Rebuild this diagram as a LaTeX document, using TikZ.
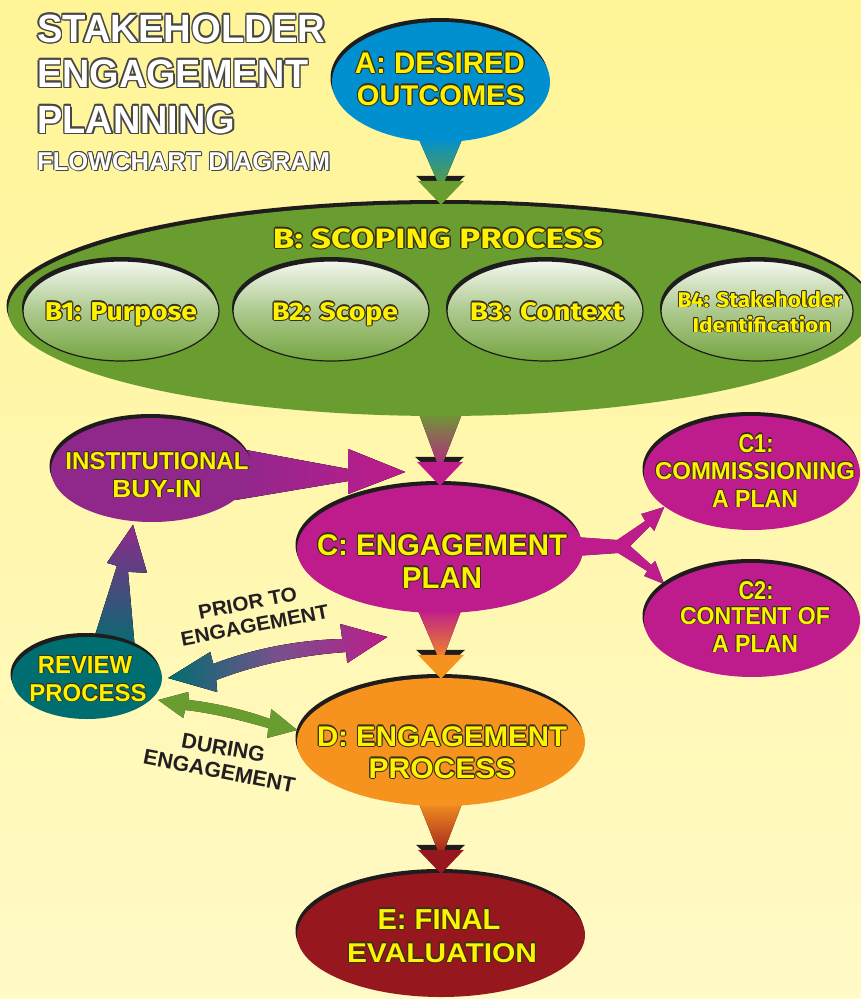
\documentclass[tikz,border=0pt]{standalone}
\usepackage{fontspec}
\setmainfont{Liberation Sans}
\newfontfamily\subfont{Fira Sans}
\usepackage{graphicx}
\usetikzlibrary{shapes.geometric,shadows,calc}
\definecolor{bgtop}{RGB}{255,244,150}
\definecolor{bgbot}{RGB}{255,250,198}
\definecolor{ablue}{RGB}{0,144,208}
\definecolor{bgreen}{RGB}{105,157,48}
\definecolor{cmag}{RGB}{190,28,140}
\definecolor{ipurp}{RGB}{144,40,140}
\definecolor{rteal}{RGB}{0,110,112}
\definecolor{dorange}{RGB}{246,146,30}
\definecolor{ered}{RGB}{150,24,30}
\definecolor{yel}{RGB}{255,242,0}
\definecolor{rim}{RGB}{55,48,25}
\definecolor{shad}{RGB}{30,28,28}
\definecolor{darktext}{RGB}{35,31,32}
\definecolor{titlerim}{RGB}{70,70,70}
\definecolor{midpurp}{RGB}{120,80,140}
\newdimen\olwd
\newcommand\olcp[4]{\makebox[0pt][l]{\hspace*{#1}\raisebox{#2}{\textcolor{#3}{#4}}}}
\newcommand\oltext[4]{{\olwd=#3\relax
  \olcp{\olwd}{0pt}{#2}{#4}\olcp{-\olwd}{0pt}{#2}{#4}%
  \olcp{0pt}{\olwd}{#2}{#4}\olcp{0pt}{-\olwd}{#2}{#4}%
  \olcp{0.7\olwd}{0.7\olwd}{#2}{#4}\olcp{-0.7\olwd}{0.7\olwd}{#2}{#4}%
  \olcp{0.7\olwd}{-0.7\olwd}{#2}{#4}\olcp{-0.7\olwd}{-0.7\olwd}{#2}{#4}%
  \textcolor{#1}{#4}}}
\newcommand\ylab[3]{\resizebox{#1}{#2}{\fontsize{28}{30}\selectfont\bfseries\oltext{yel}{rim}{1.1pt}{#3}}}
\newcommand\ysub[3]{\resizebox{#1}{#2}{\fontsize{24}{26}\selectfont\subfont\bfseries\oltext{yel}{rim}{1pt}{#3}}}
\newcommand\tlab[3]{\resizebox{#1}{#2}{\fontsize{40}{42}\selectfont\bfseries\olcp{1.8pt}{-1.8pt}{titlerim}{#3}\oltext{white}{titlerim}{1.5pt}{#3}}}
\newcommand\dlab[3]{\resizebox{#1}{#2}{\fontsize{20}{22}\selectfont\bfseries\textcolor{darktext}{#3}}}
\pgfdeclarelayer{bglayer}
\pgfdeclarelayer{connlayer}
\pgfsetlayers{bglayer,connlayer,main}
\tikzset{
  bub/.style={ellipse, inner sep=0pt, general shadow={fill=shad, shadow xshift=-1.5pt, shadow yshift=4pt}},
  subbub/.style={ellipse, inner sep=0pt, draw=shad, line width=1.2pt,
     top color=white!92!bgreen, bottom color=bgreen!92!white, middle color=bgreen!55!white,
     general shadow={fill=shad, shadow xshift=-1pt, shadow yshift=4pt}},
  lbl/.style={inner sep=0pt, anchor=base},
}
\newcommand\vlink[4]{%
  \begin{pgfonlayer}{connlayer}
  \fill[shad] ($(#2.north)+(-25,-28)$) -- ($(#2.north)+(24,-28)$) -- ($(#2.north)+(0,-5)$) -- cycle;
  \fill[top color=#3, bottom color=#4] ($(#1.south)+(-23,-5)$) -- ($(#1.south)+(22,-5)$) -- ($(#2.north)+(0,-14)$) -- cycle;
  \end{pgfonlayer}
  \fill[#4] ($(#2.north)+(-23,-23)$) -- ($(#2.north)+(23,-23)$) -- ($(#2.north)+(0,1)$) -- cycle;
}
\begin{document}
\begin{tikzpicture}[x=1pt,y=-1pt]
\useasboundingbox (0,0) rectangle (861,999);
\clip (0,0) rectangle (861,999);
\begin{pgfonlayer}{bglayer}
\fill[top color=bgtop, bottom color=bgbot] (0,0) rectangle (861,999);
\end{pgfonlayer}

% bubbles
\node[bub, fill=bgreen, minimum width=866pt, minimum height=212pt] (B) at (441,310) {};
\node[subbub, minimum width=196pt, minimum height=100pt] (B1) at (121,311) {};
\node[subbub, minimum width=196pt, minimum height=100pt] (B2) at (331,311) {};
\node[subbub, minimum width=196pt, minimum height=100pt] (B3) at (545,311) {};
\node[subbub, minimum width=192pt, minimum height=100pt] (B4) at (757,311) {};
\node[bub, fill=ablue, minimum width=218pt, minimum height=120pt] (A) at (441,82) {};
\node[bub, fill=ipurp, minimum width=202pt, minimum height=104pt] (IB) at (152,470) {};
\node[bub, fill=rteal, minimum width=150pt, minimum height=82pt] (RP) at (87,678) {};
\node[bub, fill=cmag, minimum width=286pt, minimum height=128pt] (C) at (440,549) {};
\node[bub, fill=cmag, minimum width=216pt, minimum height=114pt] (C1) at (752,473) {};
\node[bub, fill=cmag, minimum width=216pt, minimum height=114pt] (C2) at (752,620) {};
\node[bub, fill=dorange, minimum width=288pt, minimum height=128pt] (D) at (441,742) {};
\node[bub, fill=ered, minimum width=288pt, minimum height=124pt] (E) at (441,935) {};

% vertical links
\vlink{A}{B}{ablue}{bgreen}
\vlink{B}{C}{bgreen}{cmag}
\vlink{C}{D}{cmag}{dorange}
\vlink{D}{E}{dorange}{ered}

\begin{pgfonlayer}{connlayer}
% institutional buy-in -> C
\fill[shad, yshift=3pt] ($(IB.east)+(-18,-22)$) -- ($(IB.east)+(95,-1)$) -- ($(IB.east)+(95,-21)$) -- ($(IB.east)+(152,2)$) -- ($(IB.east)+(95,24)$) -- ($(IB.east)+(95,11)$) -- ($(IB.east)+(-18,30)$) -- cycle;
\fill[left color=ipurp, right color=cmag] ($(IB.east)+(-18,-22)$) -- ($(IB.east)+(95,-1)$) -- ($(IB.east)+(95,-21)$) -- ($(IB.east)+(152,2)$) -- ($(IB.east)+(95,24)$) -- ($(IB.east)+(95,11)$) -- ($(IB.east)+(-18,30)$) -- cycle;
% review -> institutional
\fill[shad, xshift=-3pt, yshift=1pt] ($(RP.north)+(5,8)$) -- ($(RP.north)+(30,-71)$) -- ($(RP.north)+(20,-74)$) -- ($(RP.north)+(46,-112)$) -- ($(RP.north)+(60,-64)$) -- ($(RP.north)+(41,-65)$) -- ($(RP.north)+(48,13)$) -- cycle;
\fill[bottom color=rteal, top color=ipurp] ($(RP.north)+(5,8)$) -- ($(RP.north)+(30,-71)$) -- ($(RP.north)+(20,-74)$) -- ($(RP.north)+(46,-112)$) -- ($(RP.north)+(60,-64)$) -- ($(RP.north)+(41,-65)$) -- ($(RP.north)+(48,13)$) -- cycle;
% C -> C1, C2 fork
\fill[shad, yshift=3pt] ($(C.east)+(-8,-12)$) -- ($(C.east)+(34,-9)$) -- ($(C.east)+(62,-28)$) -- ($(C.east)+(58,-35)$) -- ($(C.east)+(81,-42)$) -- ($(C.east)+(71,-18)$) -- ($(C.east)+(67,-23)$) -- ($(C.east)+(47,-3)$) -- ($(C.east)+(68,16)$) -- ($(C.east)+(72,12)$) -- ($(C.east)+(81,35)$) -- ($(C.east)+(61,27)$) -- ($(C.east)+(64,22)$) -- ($(C.east)+(35,4)$) -- ($(C.east)+(-8,7)$) -- cycle;
\fill[cmag] ($(C.east)+(-8,-12)$) -- ($(C.east)+(34,-9)$) -- ($(C.east)+(62,-28)$) -- ($(C.east)+(58,-35)$) -- ($(C.east)+(81,-42)$) -- ($(C.east)+(71,-18)$) -- ($(C.east)+(67,-23)$) -- ($(C.east)+(47,-3)$) -- ($(C.east)+(68,16)$) -- ($(C.east)+(72,12)$) -- ($(C.east)+(81,35)$) -- ($(C.east)+(61,27)$) -- ($(C.east)+(64,22)$) -- ($(C.east)+(35,4)$) -- ($(C.east)+(-8,7)$) -- cycle;
\end{pgfonlayer}

% prior to engagement double arrow (review <-> C)
\fill[shad, yshift=3pt] ($(RP.east)+(6,0)$) -- ($(RP.east)+(48,-26)$) -- ($(RP.east)+(51,-14)$) .. controls ($(RP.east)+(93,-30)$) and ($(RP.east)+(138,-38)$) .. ($(RP.east)+(180,-39)$) -- ($(RP.east)+(178,-54)$) -- ($(RP.east)+(225,-41)$) -- ($(RP.east)+(185,-15)$) -- ($(RP.east)+(184,-26)$) .. controls ($(RP.east)+(138,-23)$) and ($(RP.east)+(93,-13)$) .. ($(RP.east)+(54,2)$) -- ($(RP.east)+(55,14)$) -- cycle;
\fill[left color=rteal, right color=cmag, middle color=midpurp] ($(RP.east)+(6,0)$) -- ($(RP.east)+(48,-26)$) -- ($(RP.east)+(51,-14)$) .. controls ($(RP.east)+(93,-30)$) and ($(RP.east)+(138,-38)$) .. ($(RP.east)+(180,-39)$) -- ($(RP.east)+(178,-54)$) -- ($(RP.east)+(225,-41)$) -- ($(RP.east)+(185,-15)$) -- ($(RP.east)+(184,-26)$) .. controls ($(RP.east)+(138,-23)$) and ($(RP.east)+(93,-13)$) .. ($(RP.east)+(54,2)$) -- ($(RP.east)+(55,14)$) -- cycle;

% during engagement double arrow (review <-> D)
\fill[shad, yshift=3pt] ($(RP.east)+(-4,22)$) -- ($(RP.east)+(26,14)$) -- ($(RP.east)+(27,22)$) .. controls ($(RP.east)+(53,25)$) and ($(RP.east)+(83,32)$) .. ($(RP.east)+(108,41)$) -- ($(RP.east)+(109,31)$) -- ($(RP.east)+(135,52)$) -- ($(RP.east)+(105,60)$) -- ($(RP.east)+(106,50)$) .. controls ($(RP.east)+(78,42)$) and ($(RP.east)+(50,35)$) .. ($(RP.east)+(23,32)$) -- ($(RP.east)+(21,40)$) -- cycle;
\fill[bgreen] ($(RP.east)+(-4,22)$) -- ($(RP.east)+(26,14)$) -- ($(RP.east)+(27,22)$) .. controls ($(RP.east)+(53,25)$) and ($(RP.east)+(83,32)$) .. ($(RP.east)+(108,41)$) -- ($(RP.east)+(109,31)$) -- ($(RP.east)+(135,52)$) -- ($(RP.east)+(105,60)$) -- ($(RP.east)+(106,50)$) .. controls ($(RP.east)+(78,42)$) and ($(RP.east)+(50,35)$) .. ($(RP.east)+(23,32)$) -- ($(RP.east)+(21,40)$) -- cycle;

% title
\node[inner sep=0pt, anchor=base west] (t1) at (37,42) {\tlab{288pt}{29pt}{STAKEHOLDER}};
\node[inner sep=0pt, anchor=base west] (t2) at (37,87) {\tlab{271pt}{29pt}{ENGAGEMENT}};
\node[inner sep=0pt, anchor=base west] (t3) at (37,133) {\tlab{198pt}{29pt}{PLANNING}};
\node[inner sep=0pt, anchor=base west] (t4) at (37,170) {\tlab{293pt}{19pt}{FLOWCHART DIAGRAM}};

% labels
\node[lbl] (la1) at (440,73) {\ylab{170pt}{22pt}{A: DESIRED}};
\node[lbl] (la2) at (441,105) {\ylab{168pt}{21pt}{OUTCOMES}};
\node[lbl] (lb) at (438,248) {\ysub{330pt}{21pt}{B: SCOPING PROCESS}};
\node[lbl] (lb1) at (121,320) {\ysub{152pt}{19pt}{B1: Purpose}};
\node[lbl] (lb2) at (335,320) {\ysub{126pt}{19pt}{B2: Scope}};
\node[lbl] (lb3) at (547,320) {\ysub{154pt}{19pt}{B3: Context}};
\node[lbl] (lb4a) at (760,307) {\ysub{165pt}{17pt}{B4: Stakeholder}};
\node[lbl] (lb4b) at (762,332) {\ysub{139pt}{17pt}{Identification}};
\node[lbl] (li1) at (157,469) {\ylab{183pt}{18pt}{INSTITUTIONAL}};
\node[lbl] (li2) at (157,497) {\ylab{89pt}{18pt}{BUY-IN}};
\node[lbl] (lr1) at (85,673) {\ylab{94pt}{18pt}{REVIEW}};
\node[lbl] (lr2) at (88,701) {\ylab{117pt}{18pt}{PROCESS}};
\node[lbl] (lc1) at (442,555) {\ylab{250pt}{22pt}{C: ENGAGEMENT}};
\node[lbl] (lc2) at (442,588) {\ylab{80pt}{22pt}{PLAN}};
\node[lbl] (lc1a) at (756,452) {\ylab{35pt}{19pt}{C1:}};
\node[lbl] (lc1b) at (755,479) {\ylab{200pt}{18pt}{COMMISSIONING}};
\node[lbl] (lc1c) at (755,507) {\ylab{86pt}{18pt}{A PLAN}};
\node[lbl] (lc2a) at (756,599) {\ylab{35pt}{19pt}{C2:}};
\node[lbl] (lc2b) at (755,624) {\ylab{150pt}{18pt}{CONTENT OF}};
\node[lbl] (lc2c) at (755,652) {\ylab{86pt}{18pt}{A PLAN}};
\node[lbl] (ld1) at (442,746) {\ylab{250pt}{21pt}{D: ENGAGEMENT}};
\node[lbl] (ld2) at (442,778) {\ylab{147pt}{21pt}{PROCESS}};
\node[lbl] (le1) at (439,929) {\ylab{123pt}{21pt}{E: FINAL}};
\node[lbl] (le2) at (442,962) {\ylab{190pt}{20pt}{EVALUATION}};
\node[lbl, rotate=11] (lp1) at (249,610) {\dlab{100pt}{14pt}{PRIOR TO}};
\node[lbl, rotate=11] (lp2) at (256,632) {\dlab{150pt}{14pt}{ENGAGEMENT}};
\node[lbl, rotate=-10] (ldu1) at (222,755) {\dlab{84pt}{15pt}{DURING}};
\node[lbl, rotate=-11] (ldu2) at (218,778) {\dlab{154pt}{15pt}{ENGAGEMENT}};
\end{tikzpicture}
\end{document}
